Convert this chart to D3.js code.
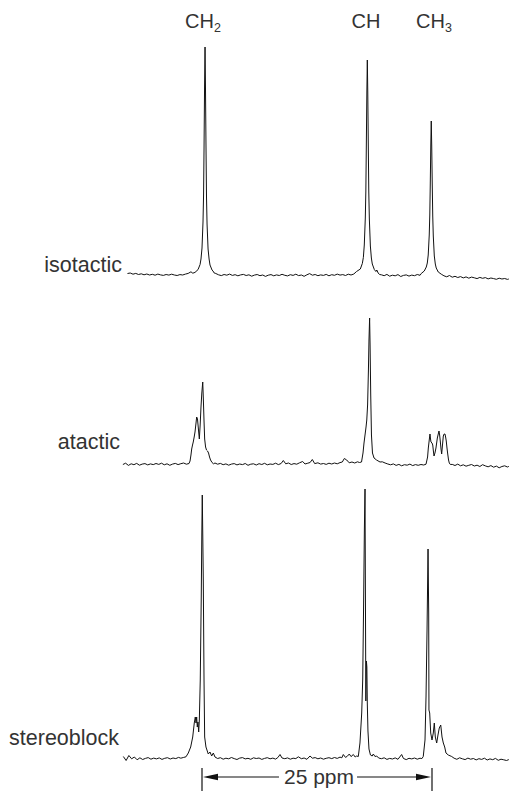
<!DOCTYPE html>
<html>
<head>
<meta charset="utf-8">
<script src="https://cdn.jsdelivr.net/npm/d3@7"></script>
<style>
  html, body { margin: 0; padding: 0; background: #fff; }
  svg { display: block; }
  text { font-family: "Liberation Sans", Arial, sans-serif; fill: #333; }
</style>
</head>
<body>
<svg id="chart" width="509" height="791"></svg>
<script>
// sample names, peak groups and the ppm scale bar
var spectrumNames = ["isotactic", "atactic", "stereoblock"];
var groupLabels = [["CH", "2"], ["CH", ""], ["CH", "3"]];
var groupPpm = [46.39, 28.68, 21.28];
var scaleBarPpm = [46.5, 21.5];

// traced spectra: [chemical shift (ppm), intensity (a.u.)]
var isotactic = [
  [54.6,2.5],[54.3,3.0],[54.0,1.8],[53.7,2.6],[53.4,1.5],[53.1,2.2],[52.8,1.2],[52.5,2.0],[52.2,1.0],[51.9,1.7],
  [51.6,0.8],[51.3,1.9],[51.0,1.1],[50.7,0.6],[50.4,1.5],[50.1,0.9],[49.8,1.8],[49.5,1.0],[49.2,0.5],[48.9,1.4],
  [48.6,1.0],[48.3,1.9],[48.0,2.6],[47.7,4.2],[47.5,2.8],
  [47.26,3.6],[46.93,6.4],[46.71,11.5],[46.61,17],[46.50,28],[46.39,54],[46.33,81],[46.28,126],[46.22,190],[46.17,229],
  [46.12,188],[46.06,124],[46.01,79],[45.95,52],[45.84,27],[45.73,17],[45.63,11],[45.41,6],[45.30,5],[45.20,3.2],[45.0,2.5],
  [44.7,1.2],[44.4,0.4],[44.1,1.5],[43.8,0.8],[43.5,1.9],[43.2,0.6],[42.9,1.3],[42.6,0.2],[42.3,1.1],[42.0,1.6],
  [41.7,0.5],[41.4,1.2],[41.1,-0.2],[40.8,0.9],[40.5,1.5],[40.2,0.3],[39.9,1.0],[39.6,-0.4],[39.3,0.8],[39.0,1.4],
  [38.7,0.2],[38.4,1.1],[38.1,0.5],[37.8,1.7],[37.5,0.7],[37.2,0.1],[36.9,1.3],[36.6,0.6],[36.3,1.8],[36.0,0.4],
  [35.7,1.0],[35.4,-0.3],[35.1,1.2],[34.8,2.4],[34.5,0.8],[34.2,1.5],[33.9,0.3],[33.6,1.1],[33.3,0.6],[33.0,1.6],
  [32.7,0.2],[32.4,1.3],[32.1,0.7],[31.8,1.9],[31.5,0.9],[31.2,1.4],[30.9,0.5],[30.6,1.8],[30.3,1.0],[30.0,2.0],
  [29.7,4.5],[29.29,7],[29.07,12.6],[28.96,18.6],[28.86,31],[28.75,58],[28.69,85],[28.64,128],[28.58,184],[28.53,216],
  [28.48,183],[28.42,127],[28.37,84],[28.31,57],[28.20,30],[28.09,18],[27.99,12],[27.77,6.5],[27.6,4.5],[27.5,6],[27.35,3],[27.2,1.5],
  [27.0,1.2],[26.7,0.3],[26.4,1.6],[26.1,-0.2],[25.8,0.8],[25.5,0.2],[25.2,1.4],[24.9,-0.5],[24.6,0.6],[24.3,1.1],
  [24.0,-0.1],[23.7,0.9],[23.4,0.3],[23.1,1.5],[22.8,0.7],
  [22.67,2.5],[22.34,5],[22.12,9],[22.01,13],[21.91,21],[21.80,41],[21.74,61],[21.69,91],[21.63,131],[21.58,155],
  [21.53,130],[21.47,90],[21.42,60],[21.36,40],[21.25,20],[21.14,12],[21.04,8],[20.82,4],[20.49,1.8],
  [20.2,0.2],[19.9,-0.8],[19.6,0.5],[19.3,-1.2],[19.0,-0.3],[18.7,-1.5],[18.4,-0.6],[18.1,-1.9],[17.8,-0.9],[17.5,-2.2],
  [17.2,-1.1],[16.9,-1.8],[16.6,-2.6],[16.3,-1.4],[16.0,-2.3],[15.7,-1.6],[15.4,-2.9],[15.1,-2.0],[14.8,-2.6],[14.5,-3.3],
  [14.2,-2.2],[13.9,-3.0],[13.6,-2.5],[13.3,-3.4],[13.15,-3.0]
];

var atactic = [
  [55.1,0.5],[54.8,1.8],[54.5,-0.4],[54.2,1.2],[53.9,0.3],[53.6,1.6],[53.3,-0.2],[53.0,0.9],[52.7,1.4],[52.4,0.1],
  [52.1,1.1],[51.8,0.4],[51.5,1.5],[51.2,0.6],[50.9,1.8],[50.6,0.2],[50.3,1.2],[50.0,-0.3],[49.7,0.9],[49.4,1.6],
  [49.1,0.4],[48.8,1.3],[48.5,2.0],[48.2,0.8],
  [47.91,1.5],[47.80,4],[47.70,10],[47.62,16],[47.53,20],[47.45,23],[47.35,28],[47.26,33],[47.15,42],[47.08,48],
  [46.99,46],[46.90,37],[46.83,30],[46.79,26],[46.70,40],[46.61,58],[46.52,72],[46.42,83],[46.35,65],[46.28,44],
  [46.21,26],[46.11,18],[46.01,15],[45.90,14],[45.79,12],[45.68,8],[45.57,5],[45.41,2.5],[45.25,1.2],[45.09,2.0],
  [44.8,0.8],[44.5,1.6],[44.2,0.3],[43.9,1.1],[43.6,-0.2],[43.3,0.9],[43.0,1.4],[42.7,0.1],[42.4,1.0],[42.1,0.4],
  [41.8,1.5],[41.5,-0.3],[41.2,0.8],[40.9,1.2],[40.6,0.0],[40.3,1.3],[40.0,0.5],[39.7,1.7],[39.4,0.2],[39.1,1.0],
  [38.8,0.6],[38.5,1.8],[38.2,0.4],[37.9,1.5],[37.66,4.5],[37.4,1.2],[37.1,2.0],[36.8,0.5],[36.5,1.4],[36.2,0.8],
  [35.9,2.2],[35.56,3.5],[35.3,1.0],[35.0,1.8],[34.75,2.5],[34.51,5.5],[34.25,1.4],[33.9,2.2],[33.6,0.9],[33.3,1.5],
  [33.0,0.6],[32.7,1.8],[32.4,1.0],[32.1,2.0],[31.8,1.2],[31.5,2.4],[31.25,3.0],[31.03,6.5],[30.77,5.0],[30.5,2.2],
  [30.2,3.0],[29.9,2.0],[29.6,3.2],[29.38,2.5],
  [29.16,3],[29.00,12],[28.89,22],[28.78,30],[28.67,38],[28.59,45],[28.50,60],[28.41,95],[28.35,125],[28.28,147],
  [28.23,120],[28.16,70],[28.08,30],[27.97,12],[27.80,7],[27.53,5],[27.15,3],
  [26.9,3.2],[26.6,2.0],[26.3,1.0],[26.0,0.2],[25.7,1.1],[25.4,-0.4],[25.1,0.6],[24.8,-0.8],[24.5,0.3],[24.2,-0.2],
  [23.9,0.9],[23.6,-0.6],[23.3,0.4],[23.0,-0.3],[22.7,0.5],[22.4,0.0],
  [22.15,0.8],[21.98,8],[21.90,17],[21.80,25],[21.72,31],[21.66,26],[21.61,23],[21.50,22],[21.42,20],[21.35,14],
  [21.28,9],[21.18,12],[21.07,17],[20.92,27],[20.82,31],[20.74,34],[20.67,30],[20.60,24],[20.52,16],[20.45,11],
  [20.36,20],[20.27,29],[20.18,31],[20.09,31],[20.02,28],[19.95,24],[19.87,17],[19.79,11],[19.70,5],[19.62,2],[19.5,0.5],
  [19.3,0.6],[19.0,-0.5],[18.7,0.9],[18.4,-0.8],[18.1,0.2],[17.8,-1.2],[17.5,-0.3],[17.2,0.5],[16.9,-1.0],[16.6,-0.2],
  [16.3,-1.5],[16.0,0.3],[15.7,-0.9],[15.4,-1.8],[15.1,-0.6],[14.8,-2.2],[14.5,-1.1],[14.2,-2.8],[13.9,-1.5],[13.6,-0.8],
  [13.3,-2.0],[13.15,-1.4]
];

var stereoblock = [
  [55.05,2.5],[54.75,-1.5],[54.45,3.5],[54.15,0.2],[53.85,2.0],[53.55,-0.8],[53.25,1.2],[52.95,-0.5],[52.65,0.6],[52.35,1.4],
  [52.05,-0.2],[51.75,0.9],[51.45,0.1],[51.15,1.1],[50.85,-0.4],[50.55,0.7],[50.25,1.3],[49.95,0.0],[49.65,1.0],[49.35,0.4],
  [49.05,1.6],[48.8,0.8],
  [48.53,1.5],[48.24,2.2],[47.99,6],[47.73,12],[47.51,22],[47.34,36],[47.23,42],[47.15,36],[47.08,42],[47.01,32],
  [46.94,37],[46.86,27],[46.79,39],[46.69,79],[46.58,162],[46.52,225],[46.47,264],[46.41,220],[46.36,179],[46.28,79],
  [46.21,22],[46.07,12],[45.82,5],[45.63,7],[45.45,3],[45.27,6],[45.09,2],
  [44.8,0.5],[44.5,1.3],[44.2,-0.2],[43.9,0.8],[43.6,0.2],[43.3,1.5],[43.0,0.4],[42.7,-0.5],[42.4,0.9],[42.1,1.4],
  [41.8,0.1],[41.5,0.7],[41.2,-0.3],[40.9,1.2],[40.6,0.5],[40.3,1.0],[40.0,-0.4],[39.7,0.6],[39.4,1.3],[39.1,0.2],
  [38.8,0.9],[38.5,-0.1],[38.25,1.5],[38.02,4.5],[37.8,1.0],[37.5,0.3],[37.2,1.1],[36.9,-0.2],[36.6,0.8],[36.3,0.4],
  [36.03,2.2],[35.7,0.3],[35.4,1.0],[35.1,-0.3],[34.76,3.0],[34.5,0.8],[34.2,1.4],[33.9,0.2],[33.6,1.0],[33.3,-0.2],
  [33.0,0.7],[32.7,1.3],[32.4,0.4],[32.1,1.5],[31.8,0.6],[31.5,1.9],[31.3,1.2],[31.14,4.5],[30.9,1.6],[30.7,2.8],
  [30.49,5.0],[30.3,2.4],[30.05,4.5],[29.85,2.0],
  [29.69,3],[29.51,2.5],[29.33,16],[29.14,46],[29.03,80],[28.94,150],[28.85,230],[28.78,270],[28.74,170],[28.69,58],
  [28.63,98],[28.58,92],[28.53,55],[28.46,28],[28.35,10],[28.19,4],[28.0,3],[27.88,5],[27.7,2.5],[27.51,3],
  [27.3,1.0],[27.0,0.3],[26.7,1.2],[26.4,-0.4],[26.1,0.6],[25.8,0.0],[25.5,1.1],[25.2,-0.3],[24.8,4.5],[24.6,0.5],
  [24.3,-0.6],[24.0,0.7],[23.7,0.1],[23.4,1.0],[23.1,-0.2],[22.8,0.8],[22.6,0.4],
  [22.45,2.5],[22.26,19],[22.15,62],[22.04,129],[21.93,210],[21.86,146],[21.83,49],[21.75,46],[21.64,26],[21.50,19],
  [21.36,26],[21.25,36],[21.14,22],[20.99,16],[20.85,24],[20.71,31],[20.55,34],[20.41,22],[20.27,16],[20.12,12],
  [19.98,6],[19.73,4],[19.36,2.5],
  [19.1,0.8],[18.8,-0.3],[18.5,1.2],[18.2,0.2],[17.9,-0.6],[17.6,0.9],[17.3,-0.2],[17.0,0.5],[16.7,-0.9],[16.4,0.3],
  [16.1,-0.4],[15.8,0.8],[15.5,-1.0],[15.2,0.1],[14.9,-0.7],[14.6,0.6],[14.3,-1.3],[14.0,-0.2],[13.7,-0.8],[13.4,-1.5],
  [13.15,-0.6]
];

var svg = d3.select("#chart");

// chemical shift runs right to left, 25 ppm spans the scale bar
var x = d3.scaleLinear().domain([46.5, 21.5]).range([202, 432]);
var y = d3.scaleLinear().domain([0, 300]).range([0, -300]);

var rows = [
  {name: spectrumNames[0], data: isotactic, base: 276, labelX: 122, labelY: 272},
  {name: spectrumNames[1], data: atactic, base: 465, labelX: 120, labelY: 449},
  {name: spectrumNames[2], data: stereoblock, base: 759, labelX: 119, labelY: 745}
];

var line = d3.line()
    .x(function(d) { return x(d[0]); })
    .y(function(d) { return y(d[1]); });

var row = svg.selectAll("g.row")
    .data(rows)
    .enter().append("g")
    .attr("class", "row");

row.append("path")
    .attr("transform", function(d) { return "translate(0," + d.base + ")"; })
    .attr("d", function(d) { return line(d.data); })
    .attr("fill", "none")
    .attr("stroke", "#111")
    .attr("stroke-width", 1)
    .attr("stroke-linejoin", "round");

row.append("text")
    .attr("x", function(d) { return d.labelX; })
    .attr("y", function(d) { return d.labelY; })
    .attr("text-anchor", "end")
    .attr("font-size", 21.5)
    .text(function(d) { return d.name; });

// CH2 / CH / CH3 labels above the peaks
var grp = svg.selectAll("text.group")
    .data(groupLabels)
    .enter().append("text")
    .attr("class", "group")
    .attr("x", function(d, i) { return x(groupPpm[i]); })
    .attr("y", 28)
    .attr("text-anchor", "middle")
    .attr("font-size", 20);
grp.append("tspan").text(function(d) { return d[0]; });
grp.append("tspan")
    .attr("font-size", 12.5)
    .attr("dy", 4)
    .text(function(d) { return d[1]; });

// scale bar
var bar = svg.append("g");
var bx0 = x(scaleBarPpm[0]), bx1 = x(scaleBarPpm[1]);
var barY = 777;

bar.selectAll("line.tick")
    .data(scaleBarPpm)
    .enter().append("line")
    .attr("class", "tick")
    .attr("x1", function(d) { return x(d); })
    .attr("x2", function(d) { return x(d); })
    .attr("y1", 768)
    .attr("y2", 791)
    .attr("stroke", "#111")
    .attr("stroke-width", 1.2);

var mid = (bx0 + bx1) / 2 + 2;
var barLabel = bar.append("text")
    .attr("x", mid)
    .attr("y", 783.5)
    .attr("text-anchor", "middle")
    .attr("font-size", 21)
    .text(Math.round(Math.abs(scaleBarPpm[0] - scaleBarPpm[1])) + " ppm");
var tw = barLabel.node().getComputedTextLength();

var head = 15, half = 3.2;
bar.append("line")
    .attr("x1", bx0 + head).attr("x2", mid - tw / 2 - 5)
    .attr("y1", barY).attr("y2", barY)
    .attr("stroke", "#111").attr("stroke-width", 1.2);
bar.append("line")
    .attr("x1", mid + tw / 2 + 3).attr("x2", bx1 - head)
    .attr("y1", barY).attr("y2", barY)
    .attr("stroke", "#111").attr("stroke-width", 1.2);
bar.append("path")
    .attr("d", "M" + (bx0 + 1) + "," + barY + "L" + (bx0 + 1 + head) + "," + (barY - half) +
               "L" + (bx0 + 1 + head) + "," + (barY + half) + "Z")
    .attr("fill", "#111");
bar.append("path")
    .attr("d", "M" + (bx1 - 1) + "," + barY + "L" + (bx1 - 1 - head) + "," + (barY - half) +
               "L" + (bx1 - 1 - head) + "," + (barY + half) + "Z")
    .attr("fill", "#111");
</script>
</body>
</html>
